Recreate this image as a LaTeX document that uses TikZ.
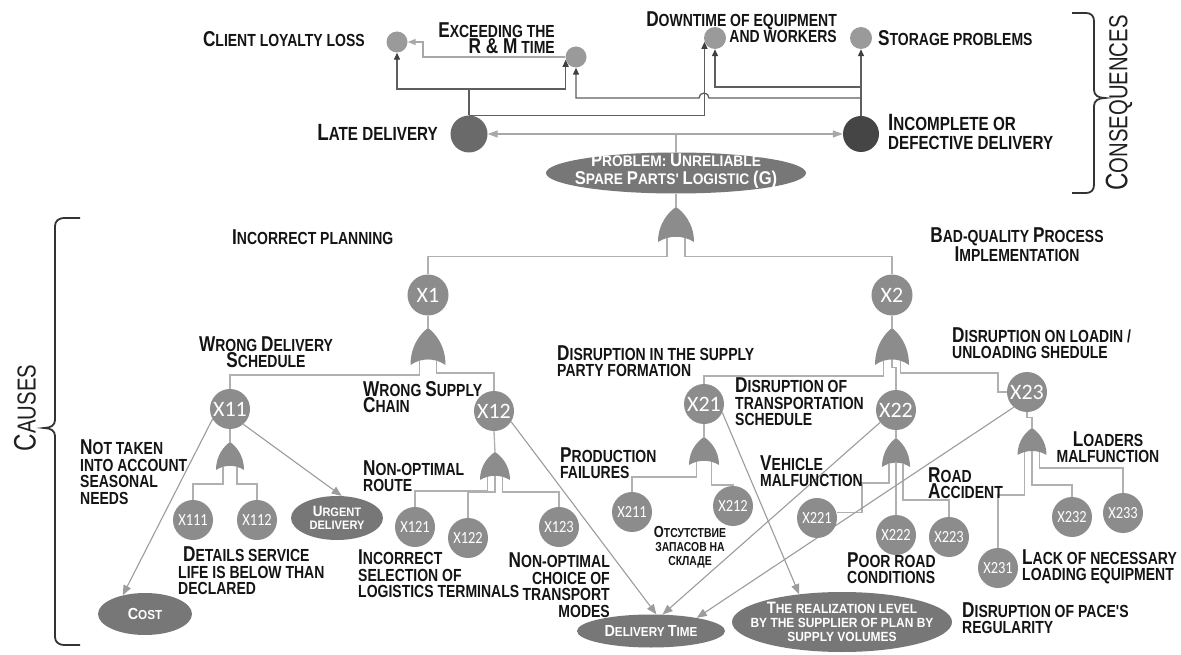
\documentclass[tikz,border=0pt]{standalone}
\usepackage{fontspec}
\setmainfont{Liberation Sans}
\newfontfamily\lblfont[FakeStretch=0.8]{Liberation Sans}
\newfontfamily\efont[FakeStretch=0.9]{Liberation Sans}
\newfontfamily\sidefont[FakeStretch=0.78]{Liberation Sans}
\newfontfamily\xfont{Carlito}
\newfontfamily\xfontn[FakeStretch=0.85]{Carlito}
\usetikzlibrary{shapes.geometric,arrows.meta,calc}
\pgfdeclarelayer{back}\pgfdeclarelayer{bg}\pgfsetlayers{back,bg,main}
\definecolor{nodegray}{HTML}{8C8C8C}
\definecolor{gatefill}{HTML}{8C8C8C}
\definecolor{smallgray}{HTML}{9A9A9A}
\definecolor{ellgray}{HTML}{777777}
\definecolor{lategray}{HTML}{6A6A6A}
\definecolor{incgray}{HTML}{454545}
\definecolor{treeline}{HTML}{B0B0B0}
\definecolor{diaggray}{HTML}{9C9C9C}
\definecolor{consdark}{HTML}{5E5E5E}
\definecolor{arrdark}{HTML}{404040}
\definecolor{conslight}{HTML}{A8A8A8}
\definecolor{bracecol}{HTML}{333333}
\def\capsz{20}\def\lsk{16.5}
\newcommand\Cap[1]{{\fontsize{\capsz}{\lsk}\selectfont #1}}
\tikzset{
  pics/orgate/.style 2 args={code={
    \fill[gatefill] (-#1/2,#2) .. controls (-#1/2,0.45*#2) and (-0.18*#1,0.12*#2) .. (0,0)
      .. controls (0.18*#1,0.12*#2) and (#1/2,0.45*#2) .. (#1/2,#2)
      .. controls (0.2*#1,0.8*#2) and (-0.2*#1,0.8*#2) .. cycle;
    \coordinate (-top) at (0,0);
    \coordinate (-l) at (-#1/4,0.88*#2);
    \coordinate (-m) at (0,0.85*#2);
    \coordinate (-r) at (#1/4,0.88*#2);
  }},
  xn/.style={circle, fill=nodegray, minimum size=40pt, inner sep=0pt, text=white,
    font=\xfont\fontsize{22}{22}\selectfont},
  xs/.style={xn, font=\xfontn\fontsize{17}{17}\selectfont},
  cn/.style={circle, fill=smallgray, minimum size=21pt, inner sep=0pt},
  ell/.style={ellipse, fill=ellgray, inner sep=0pt},
  efs/.style n args={3}{inner sep=0pt, text=white, align=center,
    font=\efont\bfseries\def\capsz{#1}\def\lsk{#3}\fontsize{#2}{#3}\selectfont},
  lbl/.style={inner sep=0pt, text=black!92,
    font=\lblfont\bfseries\def\capsz{21.5}\def\lsk{16.5}\fontsize{17.5}{16.5}\selectfont},
  lblL/.style={inner sep=0pt, text=black!92,
    font=\lblfont\bfseries\def\capsz{23.5}\def\lsk{19}\fontsize{19}{19}\selectfont},
  cyr/.style={inner sep=0pt, text=black!92,
    font=\lblfont\bfseries\def\capsz{16}\def\lsk{14}\fontsize{13}{14}\selectfont},
  side/.style={inner sep=0pt, text=black!88,
    font=\sidefont\def\capsz{31}\def\lsk{28}\fontsize{26}{28}\selectfont},
  tree/.style={draw=treeline, line width=1.3pt},
  diag/.style={draw=diaggray, line width=1.1pt, -{Triangle[length=10pt,width=8pt]}},
  cons/.style={draw=consdark, line width=1.3pt, -{Triangle[length=7pt,width=6pt,color=arrdark]}},
  consl/.style={draw=conslight, line width=1.2pt, -{Triangle[length=8pt,width=6pt,color=conslight]}},
  bothl/.style={draw=conslight, line width=1.2pt, -{Triangle[length=10pt,width=7pt,color=conslight]}},
  brace/.style={draw=bracecol, line width=1.8pt},
}
\begin{document}
\begin{tikzpicture}[x=1pt,y=-1pt]
\begin{pgfonlayer}{back}
\fill[white] (0,0) rectangle (1181,655);
\end{pgfonlayer}
\useasboundingbox (0,0) rectangle (1181,655);

% ---------- consequences ----------
\node[cn] (cli) at (397,42) {};
\node[cn] (exc) at (576,57) {};
\node[cn, minimum size=22pt] (dwn) at (715,38) {};
\node[cn, minimum size=22pt] (sto) at (861,38) {};
\node[circle, fill=lategray, minimum size=37pt, inner sep=0pt] (late) at (469,134) {};
\node[circle, fill=incgray, minimum size=36pt, inner sep=0pt] (inc) at (861,134) {};

\node[lbl, anchor=east] (tcli) at (365,39) {\Cap{C}LIENT LOYALTY LOSS};
\node[lbl, anchor=east, align=right] (texc) at (555,38) {\Cap{E}XCEEDING THE\\\Cap{R \& M} TIME};
\node[lbl, anchor=east, align=right] (tdwn) at (837,27) {\Cap{D}OWNTIME OF EQUIPMENT\\AND WORKERS};
\node[lbl, anchor=west] (tsto) at (878,38) {\Cap{S}TORAGE PROBLEMS};
\node[lblL, anchor=east] (tlate) at (438,132) {\Cap{L}ATE DELIVERY};
\node[lblL, anchor=west, align=left] (tinc) at (888,132) {\Cap{I}NCOMPLETE OR\\DEFECTIVE DELIVERY};

% ---------- problem ----------
\node[ell, minimum width=260pt, minimum height=41pt] (prob) at (676,173) {};
\node[efs={18.5}{15.3}{18}] (probt) at (676,171) {\Cap{P}ROBLEM: \Cap{U}NRELIABLE\\\Cap{S}PARE \Cap{P}ARTS' \Cap{L}OGISTIC \Cap{(G)}};
\coordinate (j0) at (prob.north |- late);
\coordinate (jlate) at (469,89);
\coordinate (jinc1) at (861,98);
\coordinate (jinc2) at (861,87);
\coordinate (jec) at (423,42);

% ---------- gates ----------
\pic (g0) at (676,207) {orgate={36}{35}};
\pic (g1) at (428,328) {orgate={35}{37}};
\pic (g2) at (892,328) {orgate={34}{37}};
\pic (g11) at (230,442) {orgate={28}{28}};
\pic (g12) at (495,452) {orgate={30}{28}};
\pic (g21) at (704,437) {orgate={30}{28}};
\pic (g22) at (896,438) {orgate={28}{29}};
\pic (g23) at (1032,428) {orgate={29}{27}};

% ---------- event nodes ----------
\node[xn, minimum size=41pt] (x1) at (428,295) {X1};
\node[xn, minimum size=41pt] (x2) at (892,295) {X2};
\node[xn] (x11) at (230,409) {X11};
\node[xn] (x12) at (494,411) {X12};
\node[xn] (x21) at (704,404) {X21};
\node[xn] (x22) at (896,410) {X22};
\node[xn] (x23) at (1027,392) {X23};
\node[xs] (x111) at (193,520) {X111};
\node[xs] (x112) at (257,520) {X112};
\node[xs] (x121) at (415,527) {X121};
\node[xs] (x122) at (468,538) {X122};
\node[xs] (x123) at (559,527) {X123};
\node[xs] (x211) at (632,512) {X211};
\node[xs] (x212) at (733,506) {X212};
\node[xs] (x221) at (817,518) {X221};
\node[xs] (x222) at (896,535) {X222};
\node[xs] (x223) at (949,537) {X223};
\node[xs] (x231) at (998,568) {X231};
\node[xs] (x232) at (1072,517) {X232};
\node[xs] (x233) at (1123,513) {X233};

% ---------- result ellipses ----------
\node[ell, minimum width=92pt, minimum height=44pt] (urg) at (337,518) {};
\node[efs={15}{12.3}{13}] (urgt) at (urg) {\Cap{U}RGENT\\DELIVERY};
\node[ell, minimum width=94pt, minimum height=42pt] (cost) at (145,614) {};
\node[efs={16}{13}{13}] (costt) at (cost) {\Cap{C}OST};
\node[ell, minimum width=148pt, minimum height=33pt] (dt) at (651,631) {};
\node[efs={16}{13}{13}] (dtt) at (dt) {\Cap{D}ELIVERY \Cap{T}IME};
\node[ell, minimum width=220pt, minimum height=60pt] (real) at (842,622) {};
\node[efs={16.5}{13.3}{14}] (realt) at (real) {\Cap{T}HE REALIZATION LEVEL\\BY THE SUPPLIER OF PLAN BY\\SUPPLY VOLUMES};

% ---------- labels ----------
\node[lbl, anchor=west] (tip) at (232,237) {\Cap{I}NCORRECT PLANNING};
\node[lbl, align=center] (tbq) at (1017,245) {\Cap{B}AD-QUALITY \Cap{P}ROCESS\\\Cap{I}MPLEMENTATION};
\node[lbl, align=center] (twds) at (266,352) {\Cap{W}RONG \Cap{D}ELIVERY\\\Cap{S}CHEDULE};
\node[lbl, anchor=west, align=left] (twsc) at (363,397) {\Cap{W}RONG \Cap{S}UPPLY\\\Cap{C}HAIN};
\node[lbl, anchor=west, align=left] (tdsp) at (557,361) {\Cap{D}ISRUPTION IN THE SUPPLY\\PARTY FORMATION};
\node[lbl, anchor=west, align=left] (tdlu) at (952,343) {\Cap{D}ISRUPTION ON LOADIN /\\UNLOADING SHEDULE};
\node[lbl, anchor=west, align=left] (tdts) at (735,402) {\Cap{D}ISRUPTION OF\\TRANSPORTATION\\SCHEDULE};
\node[lbl, anchor=west, align=left] (tnta) at (80,472) {\Cap{N}OT TAKEN\\INTO ACCOUNT\\SEASONAL\\NEEDS};
\node[lbl, anchor=west, align=left] (tnor) at (363,476) {\Cap{N}ON-OPTIMAL\\ROUTE};
\node[lbl, anchor=west, align=left] (tpf) at (560,463) {\Cap{P}RODUCTION\\FAILURES};
\node[lbl, anchor=west, align=left] (tvm) at (760,471) {\Cap{V}EHICLE\\MALFUNCTION};
\node[lbl, anchor=west, align=left] (tra) at (928,483) {\Cap{R}OAD\\\Cap{A}CCIDENT};
\node[lbl, align=center] (tlm) at (1108,447) {\Cap{L}OADERS\\MALFUNCTION};
\node[lbl, anchor=west, align=left] (tdsl) at (178,571) {\hspace*{5pt}\Cap{D}ETAILS SERVICE\\LIFE IS BELOW THAN\\DECLARED};
\node[lbl, anchor=west, align=left] (tisl) at (358,574) {\Cap{I}NCORRECT\\SELECTION OF\\LOGISTICS TERMINALS};
\node[lbl, anchor=east, align=right] (tnoc) at (610,585) {\Cap{N}ON-OPTIMAL\\CHOICE OF\\TRANSPORT\\MODES};
\node[cyr, align=center] (tcyr) at (690,547) {\Cap{О}ТСУТСТВИЕ\\ЗАПАСОВ НА\\СКЛАДЕ};
\node[lbl, anchor=west, align=left] (tprc) at (847,568) {\Cap{P}OOR ROAD\\CONDITIONS};
\node[lbl, anchor=west, align=left] (tlne) at (1022,567) {\Cap{L}ACK OF NECESSARY\\LOADING EQUIPMENT};
\node[lbl, anchor=west, align=left] (tdpr) at (962,618) {\Cap{D}ISRUPTION OF PACE'S\\REGULARITY};

% ---------- side labels and braces ----------
\node[side, rotate=90] (tcons) at (1119,103) {\Cap{C}ONSEQUENCES};
\node[side, rotate=90] (tcaus) at (25,408) {\Cap{C}AUSES};
\draw[brace] (1072,13) -- (1086,13) .. controls (1091,13) and (1094,16) .. (1094,21) -- (1094,90)
  .. controls (1094,95) and (1098,98) .. (1105,98) .. controls (1098,98) and (1094,101) .. (1094,106)
  -- (1094,185) .. controls (1094,190) and (1091,193) .. (1086,193) -- (1072,193);
\draw[brace] (80,218) -- (64,218) .. controls (59,218) and (55,221) .. (55,226) -- (55,420)
  .. controls (55,425) and (51,428) .. (44,428) .. controls (51,428) and (55,431) .. (55,436)
  -- (55,637) .. controls (55,642) and (59,645) .. (64,645) -- (80,645);

% ---------- connectors ----------
\begin{pgfonlayer}{bg}
% consequences
\draw[cons] (late.north) -- (jlate) -| (cli.south);
\draw[cons] (jlate) -| (exc.195);
\draw[cons] (late.north) -| (dwn.200);
\draw[cons] (inc.north) -- (sto.south);
\draw[cons] (jinc2) -| (dwn.south);
\draw[cons] (jinc1) -- (709,98) arc[start angle=0, end angle=-180, radius=5] -| (exc.south);
\draw[consl] (exc.west) -| (jec) -- (cli.east);
\draw[tree] (prob.north) -- (j0);
\draw[bothl] (j0) -- (late.east);
\draw[bothl] (j0) -- (inc.west);
% tree
\draw[tree] (prob.south) -- (g0-top);
\draw[tree] (g0-l) -- ++(0,19) -| (x1.north);
\draw[tree] (g0-r) -- ++(0,19) -| (x2.north);
\draw[tree] (x1.south) -- (g1-top);
\draw[tree] (x2.south) -- (g2-top);
\draw[tree] (g1-l) -- ++(0,14.4) -| (x11.north);
\draw[tree] (g1-r) -- ++(0,12.4) -| (x12.north);
\draw[tree] (g2-l) -- ++(0,15.4) -| (x21.north);
\draw[tree] (g2-m) -- ++(0,8) -| (x22.north);
\coordinate (j23) at (998,392);
\draw[tree] (g2-r) -- ++(0,12.4) -| (j23) -- (x23.west);
\draw[tree] (x11.south) -- (g11-top);
\draw[tree] (x12.south) -- (g12-top);
\draw[tree] (x21.south) -- (g21-top);
\draw[tree] (x22.south) -- (g22-top);
\draw[tree] (x23.south) -- ++(0,5) -| (g23-top);
\draw[tree] (g11-l) -- ++(0,17.4) -| (x111.north);
\draw[tree] (g11-r) -- ++(0,17.4) -| (x112.north);
\draw[tree] (g12-l) -- ++(0,14.4) -| (x121.north);
\draw[tree] (g12-m) -- ++(0,16.2) -| (x122.north);
\draw[tree] (g12-r) -- ++(0,15.4) -| (x123.north);
\draw[tree] (g21-l) -- ++(0,15.4) -| (x211.north);
\draw[tree] (g21-r) -- ++(0,23.4) -| (x212.north);
\draw[tree] (g22-l) -- ++(0,19.5) -- ++(-27,0) |- (x221.15);
\draw[tree] (g22-m) -- (x222.north);
\draw[tree] (g22-r) -- ++(0,36.5) -| (x223.north);
\draw[tree] (g23-l) -- ++(0,43.2) -| (x231.north);
\draw[tree] (g23-m) -- ++(0,34) -| (x232.north);
\draw[tree] (g23-r) -- ++(0,16.2) -| (x233.north);
% effects
\draw[diag] (x11.210) -- (cost.140);
\draw[diag] (x11.311) -- (urg.78);
\draw[diag] (x12.328) -- (dt.72);
\draw[diag] (x22.218) -- (dt.55);
\draw[diag] (x23.229) -- (dt.16);
\draw[diag] (x21.335) -- (real.147);
\end{pgfonlayer}
\end{tikzpicture}
\end{document}
